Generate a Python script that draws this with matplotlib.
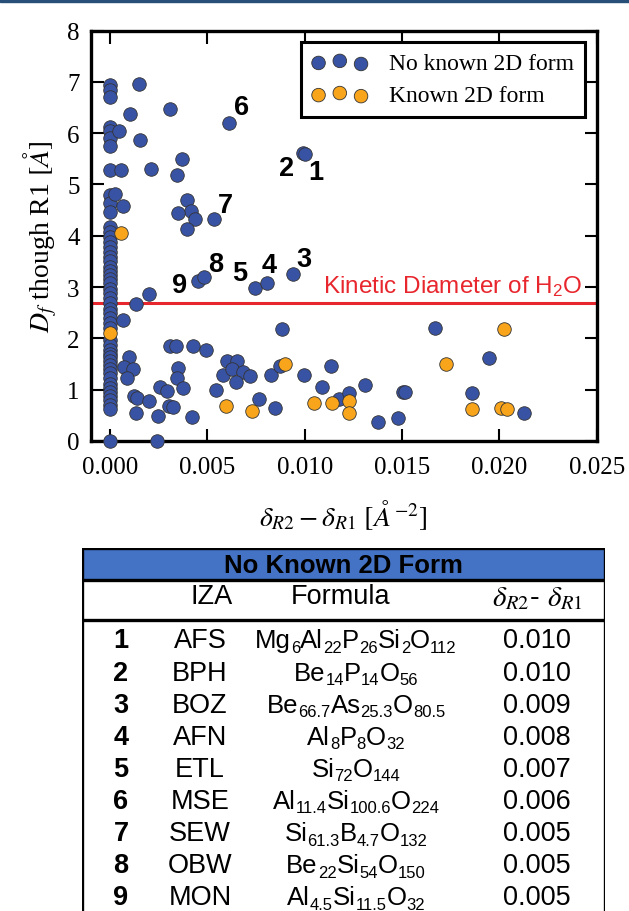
import re
import numpy as np
import matplotlib
matplotlib.use('Agg')
import matplotlib.pyplot as plt
from matplotlib.patches import Rectangle

plt.rcParams['font.family'] = 'serif'
plt.rcParams['font.serif'] = ['Liberation Serif', 'DejaVu Serif']
plt.rcParams['mathtext.fontset'] = 'stix'
plt.rcParams['mathtext.rm'] = 'Liberation Sans'
plt.rcParams['mathtext.it'] = 'Liberation Sans:italic'
plt.rcParams['mathtext.bf'] = 'Liberation Sans:bold'

# points on the x = 0 column (no known 2D form)
col_y = [6.93, 6.85, 6.71, 6.12, 6.04, 5.91, 5.74, 5.29, 4.80, 4.64, 4.47,
         4.18, 4.08, 3.98, 3.88, 3.79, 3.69, 3.59, 3.50, 3.40, 3.32, 3.24,
         3.15, 3.07, 2.97, 2.88, 2.78, 2.68, 2.58, 2.49, 2.39, 2.29, 2.20,
         1.97, 1.87, 1.77, 1.70, 1.64, 1.56, 1.48, 1.40, 1.32, 1.22, 1.12,
         1.04, 0.96, 0.88, 0.79, 0.71, 0.63, 0.0]

# other points with no known 2D form
blue_x = [0.00146, 0.00103, 0.00308, 0.00613, 0.00046, 0.00154, 0.0099,
          0.01003, 0.00368, 0.00055, 0.0021, 0.00346, 0.00026, 0.00068,
          0.00397, 0.00416, 0.00351, 0.00437, 0.00536, 0.00397, 0.00449,
          0.00483, 0.00745, 0.00808, 0.00937, 0.00134, 0.00197, 0.00068,
          0.00882, 0.00308, 0.00339, 0.00428, 0.00493, 0.00098, 0.00072,
          0.00117, 0.00086, 0.00351, 0.00343, 0.00373, 0.00257, 0.00291,
          0.0012, 0.0014, 0.00197, 0.00134, 0.00248, 0.003, 0.00325,
          0.00423, 0.006, 0.00651, 0.00582, 0.00625, 0.00682, 0.00716,
          0.00646, 0.00545, 0.00826, 0.00874, 0.00994, 0.01136, 0.01088,
          0.00766, 0.00848, 0.0024, 0.01178, 0.01225, 0.01307, 0.01374,
          0.01478, 0.01507, 0.01515, 0.0167, 0.0186, 0.01946, 0.02129]
blue_y = [6.96, 6.38, 6.47, 6.19, 6.04, 5.87, 5.61,
          5.60, 5.50, 5.29, 5.30, 5.19, 4.82, 4.58,
          4.70, 4.49, 4.44, 4.32, 4.33, 4.13, 3.11,
          3.19, 2.99, 3.07, 3.26, 2.67, 2.87, 2.36,
          2.18, 1.85, 1.85, 1.85, 1.78, 1.63, 1.45,
          1.41, 1.22, 1.43, 1.22, 1.04, 1.05, 0.97,
          0.87, 0.83, 0.78, 0.55, 0.49, 0.68, 0.66,
          0.47, 1.56, 1.56, 1.28, 1.41, 1.35, 1.26,
          1.15, 1.00, 1.28, 1.46, 1.28, 1.46, 1.05,
          0.81, 0.64, 0.0, 0.81, 0.94, 1.09, 0.37,
          0.44, 0.95, 0.96, 2.21, 0.94, 1.62, 0.54]

# known 2D form
orange_x = [0.00055, 0.0, 0.00899, 0.00596, 0.00728, 0.01045, 0.01139,
            0.01225, 0.01225, 0.01725, 0.0186, 0.02023, 0.02006, 0.02039]
orange_y = [4.05, 2.10, 1.51, 0.68, 0.59, 0.74, 0.75,
            0.78, 0.55, 1.51, 0.62, 2.18, 0.64, 0.62]

h2o_diameter = 2.68

label_ids = ['1', '2', '3', '4', '5', '6', '7', '8', '9']
label_x = [0.01057, 0.00904, 0.00994, 0.00817, 0.00665, 0.00673, 0.00594, 0.0054, 0.00355]
label_y = [5.25, 5.32, 3.54, 3.43, 3.27, 6.51, 4.60, 3.45, 3.04]

# table
iza = ['AFS', 'BPH', 'BOZ', 'AFN', 'ETL', 'MSE', 'SEW', 'OBW', 'MON']
formulas = ['Mg6Al22P26Si2O112', 'Be14P14O56', 'Be66.7As25.3O80.5', 'Al8P8O32',
            'Si72O144', 'Al11.4Si100.6O224', 'Si61.3B4.7O132', 'Be22Si54O150',
            'Al4.5Si11.5O32']
delta = ['0.010', '0.010', '0.009', '0.008', '0.007', '0.006', '0.005', '0.005', '0.005']

blue = '#3953a4'
orange = '#f8a51c'
msize = 95

W, H = 629, 912
fig = plt.figure(figsize=(W / 100, H / 100), dpi=100)
fig.patches.append(Rectangle((0, 1 - 3 / H), 1, 3 / H, transform=fig.transFigure,
                             color='#284f78', zorder=10))

ax = fig.add_axes([90.7 / W, 1 - 442 / H, 506 / W, 410.5 / H])
ax.scatter(np.zeros(len(col_y)), col_y, s=msize, c=blue, edgecolors='#333333',
           linewidths=0.6, zorder=3, clip_on=False)
ax.scatter(blue_x, blue_y, s=msize, c=blue, edgecolors='#333333',
           linewidths=0.6, zorder=3, clip_on=False, label='No known 2D form')
ax.scatter(orange_x, orange_y, s=msize, c=orange, edgecolors='#333333',
           linewidths=0.6, zorder=4, label='Known 2D form')

ax.axhline(h2o_diameter, color='#e8262d', lw=2.2, zorder=2)
ax.text(0.02425, 2.9, r'Kinetic Diameter of H$_2$O', color='#e8262d', ha='right',
        va='baseline', family='Liberation Sans', fontsize=17.5, math_fontfamily='custom')

for lab, lx, ly in zip(label_ids, label_x, label_y):
    ax.text(lx, ly, lab, ha='center', va='center', fontsize=19.5, fontweight='bold',
            family='Liberation Sans')

ax.set_xlim(-0.001, 0.025)
ax.set_ylim(0, 8)
ax.set_xticks([0, 0.005, 0.01, 0.015, 0.02, 0.025])
ax.set_xticklabels(['0.000', '0.005', '0.010', '0.015', '0.020', '0.025'])
ax.set_yticks(range(9))
ax.tick_params(direction='in', length=9, width=1.5, top=True, right=True,
               labelsize=18)
ax.tick_params(axis='x', pad=11)
ax.tick_params(axis='y', pad=8)
for sp in ax.spines.values():
    sp.set_linewidth(2.4)
ax.set_xlabel(r'$\delta_{R2} - \delta_{R1}\ [\AA^{-2}]$', fontsize=20, labelpad=14)
ax.set_ylabel(r'$D_f$ though R1 $[\AA]$', fontsize=20, labelpad=6)

leg = ax.legend(loc='upper right', bbox_to_anchor=(585 / W, 1 - 43 / H),
                bbox_transform=fig.transFigure, borderaxespad=0, scatterpoints=3,
                scatteryoffsets=[0.375, 0.5, 0.3125], fancybox=False,
                edgecolor='black', framealpha=1, fontsize=17, handletextpad=0.9,
                handlelength=2.4, borderpad=0.45, labelspacing=0.45)
leg.get_frame().set_linewidth(2.2)

# table drawn in pixel coordinates (1 data unit = 1 pixel)
tx0, tx1, ty0 = 82, 605, 549
tab = fig.add_axes([tx0 / W, 0, (tx1 - tx0) / W, (H - ty0) / H])
tab.set_xlim(tx0, tx1)
tab.set_ylim(H, ty0)
tab.axis('off')
tab.add_patch(Rectangle((tx0, ty0), tx1 - tx0, 32, color='#4472c4', zorder=1))
tab.plot([tx0, tx1], [ty0 + 32, ty0 + 32], color='black', lw=2.4)
tab.plot([tx0, tx1], [621, 621], color='black', lw=2.4)
tab.plot([tx0, tx1, tx1], [ty0, ty0, H], color='black', lw=2.4, solid_capstyle='projecting')
tab.plot([tx0, tx0], [ty0, H], color='black', lw=2.4, solid_capstyle='projecting')

sans = 'Liberation Sans'
fs = 19.5
tab.text(343, 566, 'No Known 2D Form', ha='center', va='center', fontsize=18.5,
         fontweight='bold', family=sans)
tab.text(212, 597, 'IZA', ha='center', va='center', fontsize=fs, family=sans)
tab.text(341, 597, 'Formula', ha='center', va='center', fontsize=fs, family=sans)
tab.text(538, 598, r'$\delta_{R2}$- $\delta_{R1}$', ha='center', va='center',
         fontsize=21, family=sans, math_fontfamily='stix')

renderer = fig.canvas.get_renderer()


def draw_formula(xc, yb, formula, base=18.5, sub=12, drop=4.5):
    pieces = []
    for el, num in re.findall(r'([A-Z][a-z]?)([\d.]*)', formula):
        pieces.append((el, base, 0))
        if num:
            pieces.append((num, sub, drop))
    texts = []
    total = 0
    for s, size, dy in pieces:
        t = tab.text(0, yb + dy, s, fontsize=size, family=sans, va='baseline', ha='left')
        w = t.get_window_extent(renderer).width
        texts.append((t, w))
        total += w
    x = xc - total / 2
    for t, w in texts:
        t.set_x(x)
        x += w


for i in range(len(iza)):
    yb = 648.5 + 32.1 * i
    tab.text(121, yb, label_ids[i], ha='center', va='baseline', fontsize=fs,
             fontweight='bold', family=sans)
    tab.text(200, yb, iza[i], ha='center', va='baseline', fontsize=fs, family=sans)
    draw_formula(356, yb, formulas[i])
    tab.text(537, yb, delta[i], ha='center', va='baseline', fontsize=fs, family=sans)

fig.savefig('out.png', dpi=100)
